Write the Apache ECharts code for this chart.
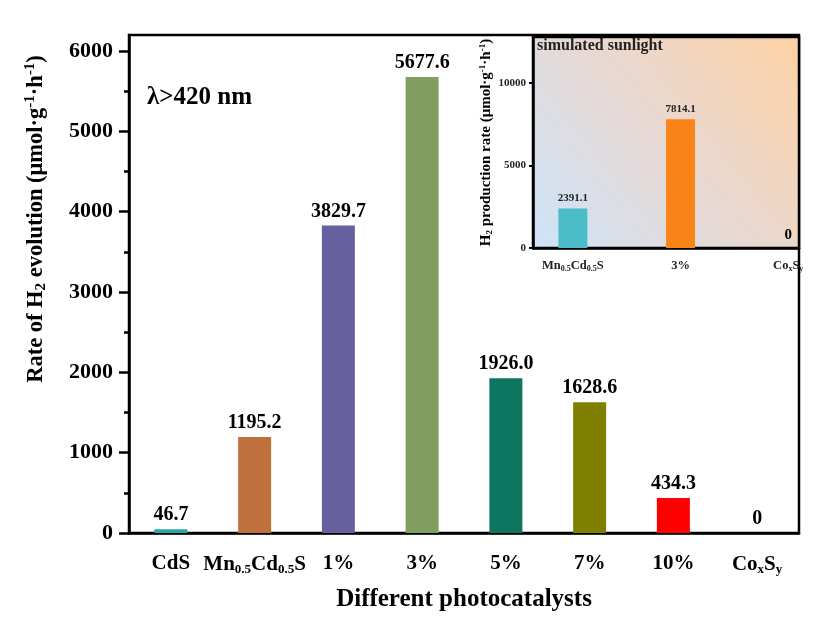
<!DOCTYPE html>
<html>
<head>
<meta charset="utf-8">
<script src="https://cdn.jsdelivr.net/npm/echarts@6/dist/echarts.min.js"></script>
<style>
  html, body { margin: 0; padding: 0; background: #fff; }
  #chart { width: 815px; height: 617px; }
</style>
</head>
<body>
<div id="chart"></div>
<script>
// Visible-light (λ>420 nm) H2 evolution rates
const categories = ['CdS', 'Mn0.5Cd0.5S', '1%', '3%', '5%', '7%', '10%', 'CoxSy'];
const rates = [46.7, 1195.2, 3829.7, 5677.6, 1926.0, 1628.6, 434.3, 0];
const barColors = ['#2ba6a8', '#c0703d', '#67609e', '#7f9e60', '#0d7560', '#7f7f00', '#fe0000', '#444444'];
const yTicks = [0, 1000, 2000, 3000, 4000, 5000, 6000];
const yMinorTicks = [500, 1500, 2500, 3500, 4500, 5500];

// Simulated sunlight H2 production rates (inset)
const insetCategories = ['Mn0.5Cd0.5S', '3%', 'CoxSy'];
const insetRates = [2391.1, 7814.1, 0];
const insetColors = ['#4bbdc8', '#fb8418', '#444444'];
const insetTicks = [0, 5000, 10000];

const serif = '"Liberation Serif", "Times New Roman", serif';

function catLabel(name) {
  if (name === 'Mn0.5Cd0.5S') return '{b|Mn}{s|0.5}{b|Cd}{s|0.5}{b|S}';
  if (name === 'CoxSy') return '{b|Co}{s|x}{b|S}{s|y}';
  return '{b|' + name + '}';
}
function fmtVal(v) { return v === 0 ? '0' : v.toFixed(1); }

const chart = echarts.init(document.getElementById('chart'), null, { renderer: 'canvas' });

const option = {
  backgroundColor: '#fff',
  animation: false,
  textStyle: { fontFamily: serif },
  grid: [
    { left: 129, right: 16, top: 35, bottom: 84, show: true, borderColor: '#000', borderWidth: 2.5,
      backgroundColor: 'transparent', containLabel: false, outerBoundsMode: 'none' },
    { left: 533, right: 16, top: 37, bottom: 369, show: true, borderColor: '#000', borderWidth: 2.5,
      containLabel: false, outerBoundsMode: 'none',
      backgroundColor: { type: 'linear', x: 0, y: 1, x2: 1, y2: 0,
        colorStops: [{ offset: 0, color: '#cde4fa' }, { offset: 0.5, color: '#e8d8d2' }, { offset: 1, color: '#fed2a4' }] } }
  ],
  xAxis: [
    {
      gridIndex: 0, type: 'category', data: categories,
      axisLine: { lineStyle: { color: '#000', width: 2.5 } },
      axisTick: { show: false },
      axisLabel: {
        interval: 0, margin: 20, color: '#000', fontFamily: serif,
        formatter: (v) => catLabel(v),
        rich: {
          b: { fontSize: 21, fontWeight: 'bold', fontFamily: serif, color: '#000' },
          s: { fontSize: 13, fontWeight: 'bold', fontFamily: serif, color: '#000', padding: [10, 0, 0, 0] }
        }
      },
      name: 'Different photocatalysts', nameLocation: 'middle', nameGap: 54,
      nameTextStyle: { fontSize: 25, fontWeight: 'bold', color: '#000', fontFamily: serif }
    },
    {
      gridIndex: 1, type: 'value', min: -0.37, max: 2.1,
      axisLine: { onZero: false, lineStyle: { color: '#000', width: 2.5 } },
      axisTick: { show: false },
      splitLine: { show: false },
      axisLabel: {
        margin: 11, color: '#000', fontFamily: serif,
        customValues: [0, 1, 2],
        formatter: (v) => catLabel(insetCategories[Math.round(v)]),
        rich: {
          b: { fontSize: 12.5, fontWeight: 'bold', fontFamily: serif, color: '#222' },
          s: { fontSize: 8, fontWeight: 'bold', fontFamily: serif, color: '#222', padding: [6, 0, 0, 0] }
        }
      }
    }
  ],
  yAxis: [
    {
      gridIndex: 0, type: 'value', min: 0, max: 6200,
      axisLine: { show: true, onZero: false, lineStyle: { color: '#000', width: 2.5 } },
      axisTick: { show: true, inside: false, length: 10, lineStyle: { width: 2.5, color: '#000' }, customValues: yTicks },
      splitLine: { show: false },
      axisLabel: { margin: 16, fontSize: 22, fontWeight: 'bold', color: '#000', fontFamily: serif,
        customValues: yTicks, formatter: (v) => String(v) },
      name: '{b|Rate of H}{s|2}{b| evolution (μmol·g}{p|-1}{b|·h}{p|-1}{b|)}',
      nameLocation: 'middle', nameGap: 80, nameRotate: 90,
      nameTextStyle: {
        padding: [0, 0, 0, 130],
        rich: {
          b: { fontSize: 22.5, fontWeight: 'bold', fontFamily: serif, color: '#000' },
          s: { fontSize: 15, fontWeight: 'bold', fontFamily: serif, color: '#000', padding: [11, 0, 0, 0] },
          p: { fontSize: 15, fontWeight: 'bold', fontFamily: serif, color: '#000', padding: [0, 0, 11, 0] }
        }
      }
    },
    {
      gridIndex: 0, type: 'value', min: 0, max: 6200, position: 'left',
      axisLine: { show: false, onZero: false },
      axisTick: { show: true, length: 5, lineStyle: { width: 2.5, color: '#000' }, customValues: yMinorTicks },
      axisLabel: { show: false },
      splitLine: { show: false }
    },
    {
      gridIndex: 1, type: 'value', min: 0, max: 12800,
      axisLine: { show: true, onZero: false, lineStyle: { color: '#000', width: 2.5 } },
      axisTick: { show: true, length: 4, lineStyle: { width: 2, color: '#000' }, customValues: insetTicks },
      splitLine: { show: false },
      axisLabel: { margin: 7, fontSize: 11, fontWeight: 'bold', color: '#222', fontFamily: serif,
        customValues: insetTicks, formatter: (v) => String(v) },
      name: '{b|H}{s|2}{b| production rate (μmol·g}{p|-1}{b|·h}{p|-1}{b|)}',
      nameLocation: 'middle', nameGap: 38, nameRotate: 90,
      nameTextStyle: {
        rich: {
          b: { fontSize: 15, fontWeight: 'bold', fontFamily: serif, color: '#000' },
          s: { fontSize: 9, fontWeight: 'bold', fontFamily: serif, color: '#000', padding: [7, 0, 0, 0] },
          p: { fontSize: 9, fontWeight: 'bold', fontFamily: serif, color: '#000', padding: [0, 0, 7, 0] }
        }
      }
    }
  ],
  series: [
    {
      type: 'bar', xAxisIndex: 0, yAxisIndex: 0, barWidth: 33,
      data: rates.map((v, i) => ({ value: v, itemStyle: { color: barColors[i] } })),
      label: {
        show: true, position: 'top', distance: 4,
        fontSize: 20, fontWeight: 'bold', color: '#000', fontFamily: serif,
        formatter: (p) => fmtVal(p.value)
      }
    },
    {
      type: 'bar', xAxisIndex: 1, yAxisIndex: 2, barWidth: 29,
      data: insetRates.map((v, i) => ({ value: [i, v], itemStyle: { color: insetColors[i] } })),
      label: {
        show: true, position: 'top', distance: 5,
        fontSize: 11, fontWeight: 'bold', color: '#222', fontFamily: serif,
        formatter: (p) => p.value[1] === 0 ? '{z|0}' : fmtVal(p.value[1]),
        rich: { z: { fontSize: 15, fontWeight: 'bold', color: '#000', fontFamily: serif } }
      }
    }
  ],
  graphic: [
    {
      type: 'text', left: 147, top: 85,
      style: { text: 'λ>420 nm', font: 'bold 25px ' + serif, fill: '#000' }
    },
    {
      type: 'text', left: 537, top: 38,
      style: { text: 'simulated sunlight', font: 'bold 16px ' + serif, fill: '#222' }
    }
  ]
};

chart.setOption(option);
</script>
</body>
</html>
